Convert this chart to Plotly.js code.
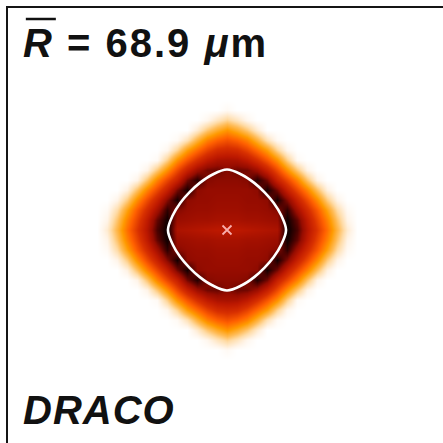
<!DOCTYPE html>
<html>
<head>
<meta charset="utf-8">
<script src="https://cdn.plot.ly/plotly-3.0.1.min.js"></script>
<style>html,body{margin:0;padding:0;background:#fff;}#chart{width:443px;height:443px;}</style>
</head>
<body>
<div id="chart"></div>
<script>
// Grid offsets from the centre (μm), one quadrant; mirrored to the full field
const gridOffsets = [0, 12.5, 25, 37.5, 50, 62.5, 75, 87.5, 100, 112.5, 125, 137.5, 150, 162.5];
// Intensity (0 = background, 1 = darkest); rows = vertical offset, columns = horizontal offset
const quadrantIntensity = [
  [0.66,0.66,0.67,0.68,0.69,0.70,0.92,0.84,0.68,0.54,0.39,0.22,0.07,0],
  [0.71,0.71,0.72,0.72,0.73,0.74,0.91,0.81,0.65,0.50,0.35,0.18,0.04,0],
  [0.73,0.73,0.74,0.74,0.75,0.77,0.87,0.72,0.58,0.44,0.28,0.12,0.02,0],
  [0.74,0.74,0.75,0.75,0.76,0.90,0.77,0.62,0.48,0.33,0.16,0.04,0,0],
  [0.75,0.75,0.75,0.76,0.90,0.79,0.63,0.49,0.35,0.19,0.05,0,0,0],
  [0.76,0.76,0.77,0.88,0.79,0.62,0.49,0.35,0.18,0.04,0,0,0,0],
  [0.77,0.80,0.79,0.73,0.62,0.48,0.32,0.17,0.04,0,0,0,0,0],
  [0.71,0.70,0.65,0.56,0.45,0.32,0.15,0.02,0,0,0,0,0,0],
  [0.59,0.57,0.50,0.40,0.29,0.14,0.03,0,0,0,0,0,0,0],
  [0.46,0.42,0.35,0.23,0.10,0.02,0,0,0,0,0,0,0,0],
  [0.31,0.25,0.17,0.07,0,0,0,0,0,0,0,0,0,0],
  [0.14,0.09,0.03,0,0,0,0,0,0,0,0,0,0,0],
  [0.02,0,0,0,0,0,0,0,0,0,0,0,0,0],
  [0,0,0,0,0,0,0,0,0,0,0,0,0,0]
];
// Boundary contour (μm)
const contourX = [47.0, 34.0, 18.5, 0, -18.5, -34.0, -47.0, -58.4, -67.9, -73.8, -67.9, -58.4, -47.0, -34.0, -18.5, 0, 18.5, 34.0, 47.0, 58.4, 67.9, 73.8, 67.9, 58.4, 47.0];
const contourY = [47.0, 58.9, 69.1, 75.6, 69.1, 58.9, 47.0, 33.8, 18.1, 0, -18.1, -33.8, -47.0, -58.9, -69.1, -75.6, -69.1, -58.9, -47.0, -33.8, -18.1, 0, 18.1, 33.8, 47.0];
// Centroid
const centerX = [0];
const centerY = [0];
const radiusLabel = '68.9';
const methodLabel = 'DRACO';

// build full mirrored grid
const n = gridOffsets.length;
const axisVals = [];
const axisIdx = [];
for (let i = n - 1; i > 0; i--) { axisVals.push(-gridOffsets[i]); axisIdx.push(i); }
for (let i = 0; i < n; i++) { axisVals.push(gridOffsets[i]); axisIdx.push(i); }
const zFull = axisIdx.map(ri => axisIdx.map(ci => quadrantIntensity[ri][ci]));

const colorscale = [
  [0, '#ffffff'],
  [0.04, '#fff4e8'],
  [0.12, '#ffdca8'],
  [0.2, '#ffbb55'],
  [0.3, '#ff9a00'],
  [0.42, '#ff6000'],
  [0.55, '#d83000'],
  [0.66, '#bc1800'],
  [0.75, '#960c00'],
  [0.83, '#500200'],
  [0.9, '#150000'],
  [1, '#000000']
];

const data = [
  {type: 'heatmap', x: axisVals, y: axisVals, z: zFull, zmin: 0, zmax: 1,
   zsmooth: 'best', colorscale: colorscale, showscale: false, hoverinfo: 'skip'},
  {type: 'scatter', mode: 'lines', x: contourX, y: contourY,
   line: {color: '#ffffff', width: 2.6, shape: 'spline', smoothing: 1}, hoverinfo: 'skip'},
  {type: 'scatter', mode: 'markers', x: centerX, y: centerY,
   marker: {symbol: 'x-thin', size: 9, color: 'rgba(255,190,190,0.9)', line: {width: 1.8, color: 'rgba(255,190,190,0.9)'}}, hoverinfo: 'skip'}
];

const axBase = {showgrid: false, zeroline: false, showticklabels: false, ticks: '',
  showline: true, linecolor: '#151515', linewidth: 2, fixedrange: true};

const layout = {
  width: 443, height: 443,
  margin: {l: 8, r: 0, t: 8, b: 0, pad: 0},
  paper_bgcolor: '#ffffff', plot_bgcolor: '#ffffff',
  showlegend: false,
  xaxis: Object.assign({}, axBase, {range: [-273.75, 270], side: 'top'}),
  yaxis: Object.assign({}, axBase, {range: [-266.25, 277.5]}),
  font: {family: 'Liberation Sans, Arial, sans-serif', color: '#111'},
  annotations: [
    {xref: 'paper', yref: 'paper', x: 0.03, y: 0.975, xanchor: 'left', yanchor: 'top',
     text: '<span style="letter-spacing:2px"><b><i>R</i> = ' + radiusLabel + ' <i>μ</i>m</b></span>', showarrow: false,
     font: {size: 40, family: 'Liberation Sans, Arial, sans-serif', color: '#111'}},
    {xref: 'paper', yref: 'paper', x: 0.03, y: 0.02, xanchor: 'left', yanchor: 'bottom',
     text: '<span style="letter-spacing:1px"><b><i>' + methodLabel + '</i></b></span>', showarrow: false,
     font: {size: 40, family: 'Liberation Sans, Arial, sans-serif', color: '#111'}}
  ],
  shapes: [
    {type: 'line', xref: 'paper', yref: 'paper', x0: 0.041, x1: 0.11, y0: 0.9747, y1: 0.9747,
     line: {color: '#111', width: 2.5}}
  ]
};

Plotly.newPlot('chart', data, layout, {staticPlot: true, displayModeBar: false});
</script>
</body>
</html>
